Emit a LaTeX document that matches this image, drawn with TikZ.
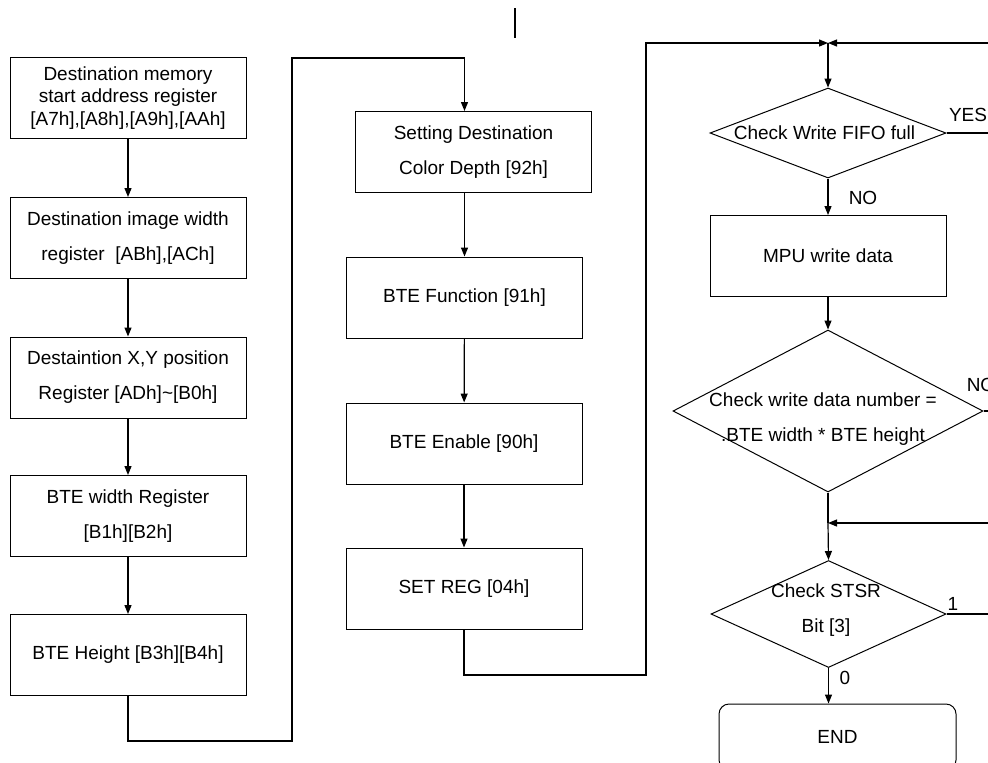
\documentclass[tikz,border=0pt]{standalone}
\usepackage{fontspec}
\setmainfont{Liberation Sans}
\usepackage{tikz}
\usetikzlibrary{arrows.meta,shapes.geometric}

\begin{document}
\begin{tikzpicture}[
  x=0.5pt, y=-0.5pt,
  every node/.style={font=\fontsize{9.5}{17.5}\selectfont},
  box/.style={rectangle, draw=black, line width=0.5pt, align=center,
              minimum width=118pt, minimum height=40.5pt, inner sep=2pt},
  tight/.style={font=\fontsize{9.5}{11.3}\selectfont},
  dec/.style={diamond, draw=black, line width=0.5pt, inner sep=0pt},
  trm/.style={rectangle, rounded corners=5pt, draw=black, line width=0.5pt,
              minimum width=118.5pt, minimum height=33pt},
  txt/.style={align=center, inner sep=0pt},
  e/.style={-{Triangle[length=4.5pt,width=3.5pt]}, line width=0.6pt},
  ln/.style={line width=0.6pt},
  lbl/.style={inner sep=0pt},
]
\useasboundingbox (0,0) rectangle (988,762);
\clip (0,0) rectangle (988,762);
% left column
\node[box, tight] (dstaddr) at (128,98)    {Destination memory\\start address register\\{}[A7h],[A8h],[A9h],[AAh]};
\node[box] (imgwidth)  at (128,238)   {Destination image width\\register~~[ABh],[ACh]};
\node[box] (xypos)     at (128,377.5) {Destaintion X,Y position\\Register [ADh]\textasciitilde[B0h]};
\node[box] (btewidth)  at (128,516)   {BTE width Register\\{}[B1h][B2h]};
\node[box] (bteheight) at (128,655)   {BTE Height [B3h][B4h]};
% middle column
\node[box] (colordepth) at (473.5,152)  {Setting Destination\\Color Depth [92h]};
\node[box] (btefunc)    at (464.5,297.5) {BTE Function [91h]};
\node[box] (bteenable)  at (464,443.5)  {BTE Enable [90h]};
\node[box] (setreg)     at (464,588.5)  {SET REG [04h]};
% right column
\node[dec, minimum width=118pt, minimum height=45pt] (fifo) at (828,133) {};
\node[txt] (fifoT) at (824.5,133) {Check Write FIFO full};
\node[box] (mpu) at (828,256) {MPU write data};
\node[dec, minimum width=155pt, minimum height=81pt] (datanum) at (828,411) {};
\node[txt] (datanumT) at (823,419.5) {Check write data number =\\.BTE width * BTE height};
\node[dec, minimum width=117.5pt, minimum height=53.5pt] (stsr) at (828.5,614) {};
\node[txt] (stsrT) at (826,610.5) {Check STSR\\Bit [3]};
\node[trm] (endbox) at (837.5,737) {END};
% labels
\node[lbl] (yes)  at (968,115) {YES};
\node[lbl] (noA)  at (863,198) {NO};
\node[lbl] (noB)  at (981,385) {NO};
\node[lbl] (one)  at (953,604) {1};
\node[lbl] (zero) at (845,678) {0};
% bends and joins
\coordinate (top)   at (828,43);
\coordinate (midJ)  at (828,523);
\coordinate (lowA)  at (292,741);
\coordinate (highA) at (292,58);
\coordinate (lowB)  at (646,675);
\coordinate (highB) at (646,43);
\coordinate (farA)  at (1010,43);
\coordinate (farC)  at (1010,523);
\coordinate (markT) at (515,8);
\coordinate (markB) at (515,38);
% edges
\draw[e] (dstaddr)  -- (imgwidth);
\draw[e] (imgwidth) -- (xypos);
\draw[e] (xypos)    -- (btewidth);
\draw[e] (btewidth) -- (bteheight);
\draw[e] (bteheight.south) |- (lowA) -- (highA) -| (btefunc.north |- colordepth.north);
\draw[e] (colordepth.south -| btefunc.north) -- (btefunc.north);
\draw[e] (btefunc)   -- (bteenable);
\draw[e] (bteenable) -- (setreg);
\draw[e] (setreg.south) |- (lowB) -- (highB) -- (top);
\draw[e] (top) -- (fifo.north);
\draw[e] (fifo.east) -| (farA) -- (top);
\draw[e] (fifo.south) -- (mpu.north);
\draw[e] (mpu.south) -- (datanum.north);
\draw[ln] (datanum.east) -| (farA);
\draw[ln] (datanum.south) -- (midJ);
\draw[e] (stsr.east) -| (farC) -- (midJ);
\draw[e] (midJ) -- (stsr.north);
\draw[e] (stsr.south) -- (stsr.south |- endbox.north);
\draw[ln] (markT) -- (markB);
\end{tikzpicture}
\end{document}
